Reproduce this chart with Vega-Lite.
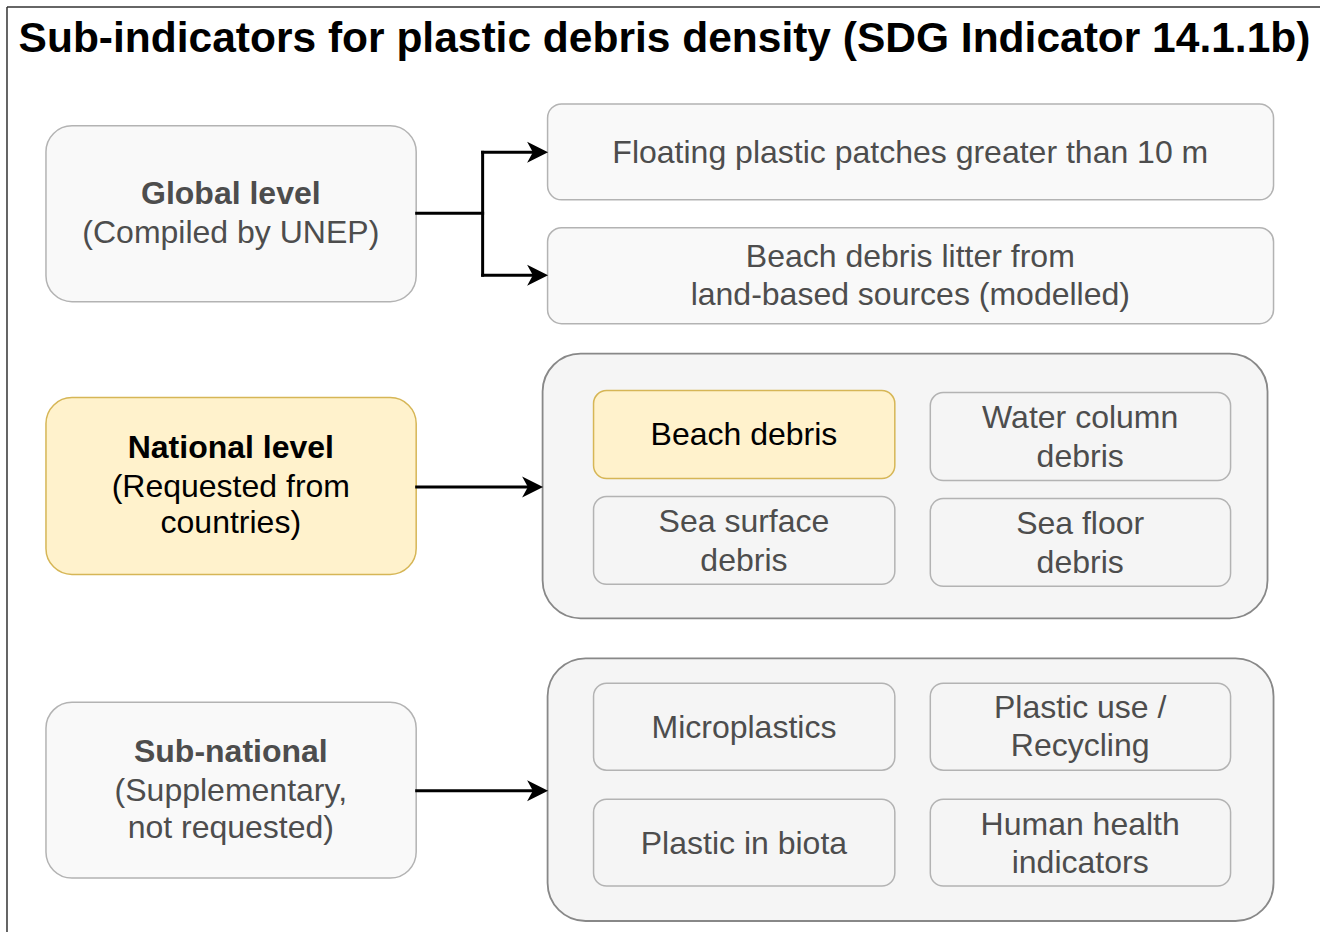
{
  "$schema": "https://vega.github.io/schema/vega-lite/v6.json",
  "width": 1321,
  "height": 933,
  "padding": 0,
  "autosize": {"type": "fit", "contains": "padding"},
  "background": "white",
  "config": {"view": {"stroke": null}},
  "datasets": {
    "boxes": [
      {"kind": "level", "tone": "light", "edge": "soft", "x1": 46, "x2": 416.5, "y1": 126, "y2": 302},
      {"kind": "level", "tone": "yellow", "edge": "gold", "x1": 46, "x2": 416.5, "y1": 398, "y2": 575},
      {"kind": "level", "tone": "light", "edge": "soft", "x1": 46, "x2": 416.5, "y1": 703, "y2": 879},
      {"kind": "wide", "tone": "light", "edge": "soft", "x1": 548, "x2": 1274.5, "y1": 104, "y2": 200},
      {"kind": "wide", "tone": "light", "edge": "soft", "x1": 548, "x2": 1274.5, "y1": 228, "y2": 324},
      {"kind": "group", "tone": "grey", "edge": "dark", "x1": 543, "x2": 1268.5, "y1": 354, "y2": 619},
      {"kind": "group", "tone": "grey", "edge": "dark", "x1": 548, "x2": 1274.5, "y1": 659, "y2": 922},
      {"kind": "item", "tone": "yellow", "edge": "gold", "x1": 594, "x2": 895.5, "y1": 391, "y2": 479},
      {"kind": "item", "tone": "grey", "edge": "soft", "x1": 931, "x2": 1231.5, "y1": 393, "y2": 481},
      {"kind": "item", "tone": "grey", "edge": "soft", "x1": 594, "x2": 895.5, "y1": 497, "y2": 585},
      {"kind": "item", "tone": "grey", "edge": "soft", "x1": 931, "x2": 1231.5, "y1": 499, "y2": 587},
      {"kind": "item", "tone": "grey", "edge": "soft", "x1": 594, "x2": 895.5, "y1": 684, "y2": 771},
      {"kind": "item", "tone": "grey", "edge": "soft", "x1": 931, "x2": 1231.5, "y1": 684, "y2": 771},
      {"kind": "item", "tone": "grey", "edge": "soft", "x1": 594, "x2": 895.5, "y1": 800, "y2": 887},
      {"kind": "item", "tone": "grey", "edge": "soft", "x1": 931, "x2": 1231.5, "y1": 800, "y2": 887}
    ],
    "frame": [
      {"x1": 7, "x2": 1321, "y1": 7, "y2": 7},
      {"x1": 7, "x2": 7, "y1": 7, "y2": 933}
    ],
    "links": [
      {"x1": 417, "x2": 483, "y1": 213.5, "y2": 213.5},
      {"x1": 483, "x2": 483, "y1": 152.5, "y2": 275.5},
      {"x1": 483, "x2": 532, "y1": 152.5, "y2": 152.5},
      {"x1": 483, "x2": 532, "y1": 275.5, "y2": 275.5},
      {"x1": 417, "x2": 527, "y1": 487.5, "y2": 487.5},
      {"x1": 417, "x2": 532, "y1": 791.5, "y2": 791.5}
    ],
    "heads": [
      {"x": 538, "y": 152.5},
      {"x": 538, "y": 275.5},
      {"x": 533, "y": 487.5},
      {"x": 538, "y": 791.5}
    ],
    "labels": [
      {"role": "title", "ink": "black", "x": 665, "y": 39, "text": "Sub-indicators for plastic debris density (SDG Indicator 14.1.1b)"},
      {"role": "head", "ink": "grey", "x": 231, "y": 194.5, "text": "Global level"},
      {"role": "body", "ink": "grey", "x": 231, "y": 233.5, "text": "(Compiled by UNEP)"},
      {"role": "head", "ink": "black", "x": 231, "y": 448.5, "text": "National level"},
      {"role": "body", "ink": "black", "x": 231, "y": 487.5, "text": "(Requested from"},
      {"role": "body", "ink": "black", "x": 231, "y": 523.5, "text": "countries)"},
      {"role": "head", "ink": "grey", "x": 231, "y": 752.5, "text": "Sub-national"},
      {"role": "body", "ink": "grey", "x": 231, "y": 791.5, "text": "(Supplementary,"},
      {"role": "body", "ink": "grey", "x": 231, "y": 828.5, "text": "not requested)"},
      {"role": "body", "ink": "grey", "x": 911, "y": 153, "text": "Floating plastic patches greater than 10 m"},
      {"role": "body", "ink": "grey", "x": 911, "y": 257.5, "text": "Beach debris litter from"},
      {"role": "body", "ink": "grey", "x": 911, "y": 295.5, "text": "land-based sources (modelled)"},
      {"role": "body", "ink": "black", "x": 744.5, "y": 435.5, "text": "Beach debris"},
      {"role": "body", "ink": "grey", "x": 1081, "y": 418.5, "text": "Water column"},
      {"role": "body", "ink": "grey", "x": 1081, "y": 457.5, "text": "debris"},
      {"role": "body", "ink": "grey", "x": 744.5, "y": 522.5, "text": "Sea surface"},
      {"role": "body", "ink": "grey", "x": 744.5, "y": 561.5, "text": "debris"},
      {"role": "body", "ink": "grey", "x": 1081, "y": 524.5, "text": "Sea floor"},
      {"role": "body", "ink": "grey", "x": 1081, "y": 563.5, "text": "debris"},
      {"role": "body", "ink": "grey", "x": 744.5, "y": 728.5, "text": "Microplastics"},
      {"role": "body", "ink": "grey", "x": 1081, "y": 708.5, "text": "Plastic use /"},
      {"role": "body", "ink": "grey", "x": 1081, "y": 746.5, "text": "Recycling"},
      {"role": "body", "ink": "grey", "x": 744.5, "y": 844.5, "text": "Plastic in biota"},
      {"role": "body", "ink": "grey", "x": 1081, "y": 825.5, "text": "Human health"},
      {"role": "body", "ink": "grey", "x": 1081, "y": 863.5, "text": "indicators"}
    ]
  },
  "resolve": {"scale": {"x": "shared", "y": "shared"}},
  "layer": [
    {
      "data": {"name": "frame"},
      "mark": {"type": "rule", "color": "#333333", "strokeWidth": 1.5},
      "encoding": {
        "x": {"field": "x1", "type": "quantitative", "scale": {"domain": [0, 1321], "nice": false, "zero": false}, "axis": null},
        "x2": {"field": "x2"},
        "y": {"field": "y1", "type": "quantitative", "scale": {"domain": [0, 933], "nice": false, "zero": false, "reverse": true}, "axis": null},
        "y2": {"field": "y2"}
      }
    },
    {
      "data": {"name": "boxes"},
      "transform": [{"filter": "datum.kind === 'level'"}],
      "mark": {"type": "rect", "cornerRadius": 26, "strokeWidth": 1.5},
      "encoding": {
        "x": {"field": "x1", "type": "quantitative"},
        "x2": {"field": "x2"},
        "y": {"field": "y1", "type": "quantitative"},
        "y2": {"field": "y2"},
        "fill": {"field": "tone", "type": "nominal", "legend": null, "scale": {"domain": ["light", "grey", "yellow"], "range": ["#f9f9f9", "#f5f5f5", "#fff2cc"]}},
        "stroke": {"field": "edge", "type": "nominal", "legend": null, "scale": {"domain": ["soft", "dark", "gold"], "range": ["#b3b3b3", "#888888", "#d6b656"]}}
      }
    },
    {
      "data": {"name": "boxes"},
      "transform": [{"filter": "datum.kind === 'wide'"}],
      "mark": {"type": "rect", "cornerRadius": 14, "strokeWidth": 1.5},
      "encoding": {
        "x": {"field": "x1", "type": "quantitative"},
        "x2": {"field": "x2"},
        "y": {"field": "y1", "type": "quantitative"},
        "y2": {"field": "y2"},
        "fill": {"field": "tone", "type": "nominal", "legend": null},
        "stroke": {"field": "edge", "type": "nominal", "legend": null}
      }
    },
    {
      "data": {"name": "boxes"},
      "transform": [{"filter": "datum.kind === 'group'"}],
      "mark": {"type": "rect", "cornerRadius": 38, "strokeWidth": 1.8},
      "encoding": {
        "x": {"field": "x1", "type": "quantitative"},
        "x2": {"field": "x2"},
        "y": {"field": "y1", "type": "quantitative"},
        "y2": {"field": "y2"},
        "fill": {"field": "tone", "type": "nominal", "legend": null},
        "stroke": {"field": "edge", "type": "nominal", "legend": null}
      }
    },
    {
      "data": {"name": "boxes"},
      "transform": [{"filter": "datum.kind === 'item'"}],
      "mark": {"type": "rect", "cornerRadius": 13, "strokeWidth": 1.5},
      "encoding": {
        "x": {"field": "x1", "type": "quantitative"},
        "x2": {"field": "x2"},
        "y": {"field": "y1", "type": "quantitative"},
        "y2": {"field": "y2"},
        "fill": {"field": "tone", "type": "nominal", "legend": null},
        "stroke": {"field": "edge", "type": "nominal", "legend": null}
      }
    },
    {
      "data": {"name": "links"},
      "mark": {"type": "rule", "color": "#000000", "strokeWidth": 3, "strokeCap": "square"},
      "encoding": {
        "x": {"field": "x1", "type": "quantitative"},
        "x2": {"field": "x2"},
        "y": {"field": "y1", "type": "quantitative"},
        "y2": {"field": "y2"}
      }
    },
    {
      "data": {"name": "heads"},
      "mark": {"type": "point", "shape": "M1,0L-1,-1L-0.45,0L-1,1Z", "size": 440, "filled": true, "color": "#000000", "opacity": 1, "strokeWidth": 0},
      "encoding": {
        "x": {"field": "x", "type": "quantitative"},
        "y": {"field": "y", "type": "quantitative"}
      }
    },
    {
      "data": {"name": "labels"},
      "transform": [{"filter": "datum.role === 'title'"}],
      "mark": {"type": "text", "font": "Liberation Sans", "fontSize": 42.5, "fontWeight": "bold", "align": "center", "baseline": "middle"},
      "encoding": {
        "x": {"field": "x", "type": "quantitative"},
        "y": {"field": "y", "type": "quantitative"},
        "text": {"field": "text"},
        "color": {"field": "ink", "type": "nominal", "legend": null, "scale": {"domain": ["black", "grey"], "range": ["#000000", "#4d4d4d"]}}
      }
    },
    {
      "data": {"name": "labels"},
      "transform": [{"filter": "datum.role === 'head'"}],
      "mark": {"type": "text", "font": "Liberation Sans", "fontSize": 32, "fontWeight": "bold", "align": "center", "baseline": "middle"},
      "encoding": {
        "x": {"field": "x", "type": "quantitative"},
        "y": {"field": "y", "type": "quantitative"},
        "text": {"field": "text"},
        "color": {"field": "ink", "type": "nominal", "legend": null}
      }
    },
    {
      "data": {"name": "labels"},
      "transform": [{"filter": "datum.role === 'body'"}],
      "mark": {"type": "text", "font": "Liberation Sans", "fontSize": 32, "align": "center", "baseline": "middle"},
      "encoding": {
        "x": {"field": "x", "type": "quantitative"},
        "y": {"field": "y", "type": "quantitative"},
        "text": {"field": "text"},
        "color": {"field": "ink", "type": "nominal", "legend": null}
      }
    }
  ]
}
